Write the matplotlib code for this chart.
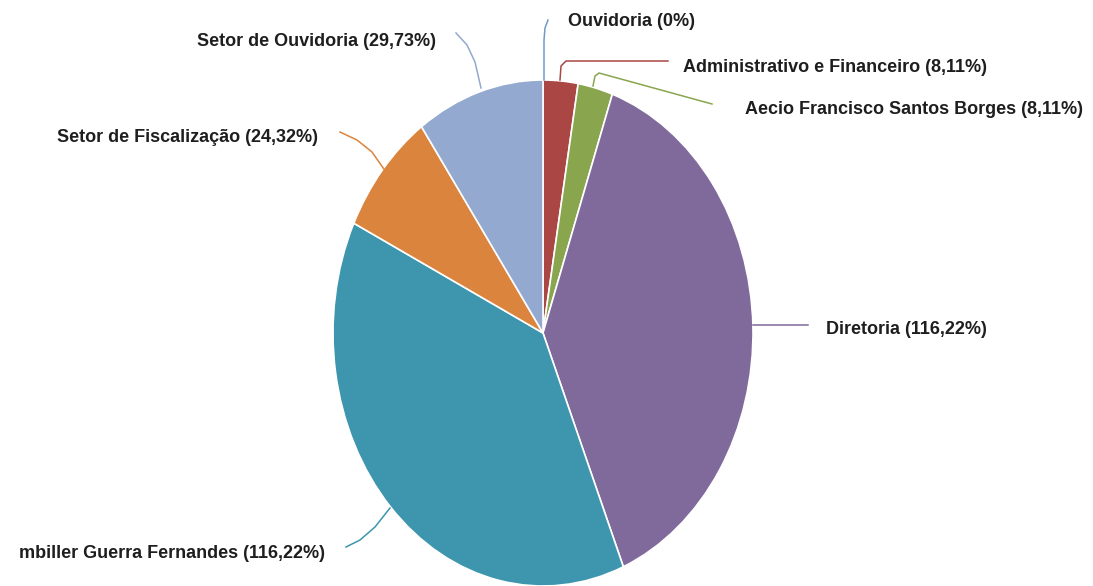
import matplotlib
matplotlib.use("Agg")
import matplotlib.pyplot as plt
from matplotlib.lines import Line2D

plt.rcParams['font.family'] = ['Liberation Sans Narrow', 'Liberation Sans', 'DejaVu Sans']

labels = ["Ouvidoria (0%)", "Administrativo e Financeiro (8,11%)",
          "Aecio Francisco Santos Borges (8,11%)", "Diretoria (116,22%)",
          "mbiller Guerra Fernandes (116,22%)", "Setor de Fiscalização (24,32%)",
          "Setor de Ouvidoria (29,73%)"]
values = [0, 8.11, 8.11, 116.22, 116.22, 24.32, 29.73]
colors = ["#6F9ACB", "#AA4643", "#89A54E", "#80699B", "#3D96AE", "#DB843D", "#93A9CF"]

W, H = 1093, 586
cx, cy, rx, ry = 543, 333, 210, 253

fig = plt.figure(figsize=(W / 100, H / 100), dpi=100)
ax = fig.add_axes([0, 0, 1, 1])
ax.pie(values, colors=colors, startangle=90, counterclock=False,
       wedgeprops=dict(edgecolor="white", linewidth=1.2))
ax.set_aspect("auto")
ax.set_xlim(-cx / rx, (W - cx) / rx)
ax.set_ylim(-(H - cy) / ry, cy / ry)
ax.axis("off")


def px(x, y):
    return x / W, 1 - y / H


# leader lines (pixel coords) and label anchors
leaders = [
    ([(544, 80), (544, 40), (545, 28), (548, 20)], (568, 22), "left"),
    ([(560, 80), (561, 66), (566, 61), (668, 61)], (683, 68), "left"),
    ([(593, 86), (595, 76), (599, 73), (712, 104)], (745, 110), "left"),
    ([(753, 325), (808, 325)], (826, 330), "left"),
    ([(390, 508), (375, 527), (360, 540), (346, 547)], (325, 554), "right"),
    ([(386, 172), (372, 152), (357, 140), (340, 132)], (318, 137), "right"),
    ([(481, 88), (475, 62), (467, 45), (456, 33)], (436, 42), "right"),
]

for (pts, (tx, ty), ha), lab, col in zip(leaders, labels, colors):
    xs = [px(x, y)[0] for x, y in pts]
    ys = [px(x, y)[1] for x, y in pts]
    fig.add_artist(Line2D(xs, ys, transform=fig.transFigure, color=col, lw=1.1))
    fig.text(*px(tx, ty), lab, ha=ha, va="center", fontsize=13,
             fontweight="bold", color="#1e1e1e")

fig.savefig("out.png", dpi=100, facecolor="white")
